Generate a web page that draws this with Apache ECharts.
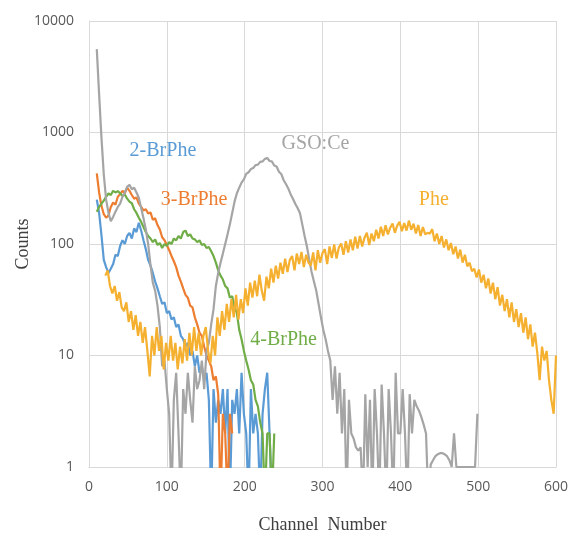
<!DOCTYPE html>
<html>
<head>
<meta charset="utf-8">
<script src="https://cdn.jsdelivr.net/npm/echarts@6/dist/echarts.min.js"></script>
<style>html,body{margin:0;padding:0;background:#fff;}#c{width:568px;height:534px;}</style>
</head>
<body>
<div id="c"></div>
<script>
// Channel axis ticks
const xTicks = [0, 100, 200, 300, 400, 500, 600];
const yTicks = [1, 10, 100, 1000, 10000];
const STEP = 3;

// 2-BrPhe (start channel 10)
const brPhe2Start = 10;
const brPhe2 = [250,190,120,72,62,55,60,66,80,78,96,108,100,118,126,112,138,128,155,132,108,90,72,64,55,46,40,34,29,30,24,25,21,22,18,19,15,14,12,13,10,11,8,10,7,8,6,7,4,0.5,5,2.5,4,3,5,2,5,0.5,4,3,5,2,7,3,2,0.5,5,2,3,2,0.5,3,5,7,2,0.5];

// 3-BrPhe (start channel 10)
const brPhe3Start = 10;
const brPhe3 = [430,290,220,185,172,180,215,235,225,265,280,300,285,320,300,275,255,262,230,215,200,205,188,192,165,170,148,135,115,108,98,88,78,70,62,52,46,40,35,33,28,27,22,19,16,15,12,10,9,8,6,6.5,4.5,0.5,3,2,0.5,3,2];

// 4-BrPhe (start channel 10)
const brPhe4Start = 10;
const brPhe4 = [195,215,230,245,265,285,275,300,290,298,285,270,278,255,240,232,205,190,172,158,142,128,118,112,104,110,98,102,92,100,96,104,100,112,108,118,112,128,132,118,122,112,110,104,108,98,100,92,94,86,78,68,58,52,48,42,40,33,34,27,24,17,14,11,9,7.5,6,5.5,4,3.5,2.5,2,0.5,2,2,0.5,2];

// GSO:Ce (start channel 10)
const gsoStart = 10;
const gso = [5600,2200,900,420,250,190,160,175,195,215,230,265,290,325,340,310,320,290,260,210,170,135,100,65,45,38,28,18,8,9,5,3,0.5,4,7,2,0.5,5,3,7,4,2.5,8,5,6,9,5,11,13,19,26,42,55,68,82,100,122,150,190,240,285,320,355,380,425,440,470,480,510,515,545,550,580,590,555,550,505,495,445,425,375,345,315,280,255,230,210,190,150,118,95,72,56,46,38,29,22,17,14,11,9,4,8,3,7,2,5,0.5,4,2,1.8,1.5,1.4,1.5,0.5,4.5,1,4,0.5,5,2,0.5,5.5,2,0.5,5,2,0.5,7,2,2,5,2,0.5,4.5,2,4,3.5,3.2,2.8,2.4,2,0.5,1.05,1.15,1.25,1.3,1.33,1.33,1.3,1.25,1.15,1,2,1,1,1,1,1,1,1,1,1,3];

// Phe (start channel 21)
const pheStart = 21;
const phe = [52,58,42,36,42,31,37,27,25,30,20,25,17,23,15,20,13,18,11,6.5,15,10,18,11,15,7.5,13,9,15,9,13,7.5,12,8.5,14,9,16,10,18,11,16,10,15,18,11,8.5,15,10,22,15,25,17,29,20,32,22,35,21,32,24,40,28,45,33,47,34,53,38,31,51,40,60,45,64,49,68,54,74,56,72,78,58,82,66,85,62,80,68,64,84,58,88,68,83,90,66,95,75,99,74,93,101,80,106,84,110,88,116,91,118,95,114,126,98,124,106,134,112,143,118,147,122,140,153,126,146,158,130,154,132,162,134,152,124,148,118,142,122,126,124,136,106,124,100,118,93,110,88,102,81,95,74,89,68,80,63,68,57,60,50,59,45,53,40,49,36,45,32,41,28,35,25,32,22,30,20,26,18,24,16,22,14,19,12,16,10.5,6,12,9,11,6,4,3,10];

// Series labels: [channel, counts]
const labelPos = {
  '2-BrPhe': [95, 683],
  '3-BrPhe': [135, 248],
  '4-BrPhe': [250, 13.8],
  'GSO:Ce': [291, 788],
  'Phe': [443, 248]
};

function pairs(start, vals) {
  return vals.map((v, i) => [start + i * STEP, v]);
}

const defs = [
  { name: '2-BrPhe', start: brPhe2Start, vals: brPhe2, color: '#5B9BD5' },
  { name: '3-BrPhe', start: brPhe3Start, vals: brPhe3, color: '#ED7D31' },
  { name: '4-BrPhe', start: brPhe4Start, vals: brPhe4, color: '#70AD47' },
  { name: 'GSO:Ce', start: gsoStart, vals: gso, color: '#A5A5A5' },
  { name: 'Phe', start: pheStart, vals: phe, color: '#F5B030' }
];

const chart = echarts.init(document.getElementById('c'), null, { renderer: 'canvas' });
chart.setOption({
  animation: false,
  backgroundColor: '#fff',
  grid: { left: 89, right: 12, top: 21, bottom: 67, containLabel: false, outerBoundsMode: 'none' },
  xAxis: {
    type: 'value', min: xTicks[0], max: xTicks[xTicks.length - 1], interval: 100,
    name: 'Channel  Number', nameLocation: 'middle', nameGap: 49, nameMoveOverlap: false,
    nameTextStyle: { fontFamily: 'Liberation Serif', fontSize: 18, color: '#404040' },
    axisLine: { show: true, lineStyle: { color: '#D9D9D9', width: 1 } },
    axisTick: { show: false },
    axisLabel: { fontFamily: 'Open Sans', fontSize: 14, color: '#595959', margin: 13 },
    splitLine: { show: true, lineStyle: { color: '#D9D9D9', width: 1 } }
  },
  yAxis: {
    type: 'log', logBase: 10, min: yTicks[0], max: yTicks[yTicks.length - 1],
    name: 'Counts', nameLocation: 'middle', nameGap: 57, nameRotate: 90, nameMoveOverlap: false,
    nameTextStyle: { fontFamily: 'Liberation Serif', fontSize: 18, color: '#404040' },
    axisLine: { show: true, lineStyle: { color: '#D9D9D9', width: 1 } },
    axisTick: { show: false },
    axisLabel: { fontFamily: 'Open Sans', fontSize: 14, color: '#595959', margin: 15,
      formatter: v => String(Math.round(v)) },
    splitLine: { show: true, lineStyle: { color: '#D9D9D9', width: 1 } }
  },
  series: defs.map(d => ({
    name: d.name,
    type: 'line',
    showSymbol: false,
    symbol: 'none',
    clip: true,
    data: pairs(d.start, d.vals),
    lineStyle: { color: d.color, width: 2.2 },
    itemStyle: { color: d.color },
    markPoint: {
      symbol: 'circle', symbolSize: 0, silent: true,
      label: { show: true, position: 'inside', formatter: d.name,
        fontFamily: 'Liberation Serif', fontSize: 20, color: d.color },
      data: [{ coord: labelPos[d.name] }]
    }
  }))
});
</script>
</body>
</html>
